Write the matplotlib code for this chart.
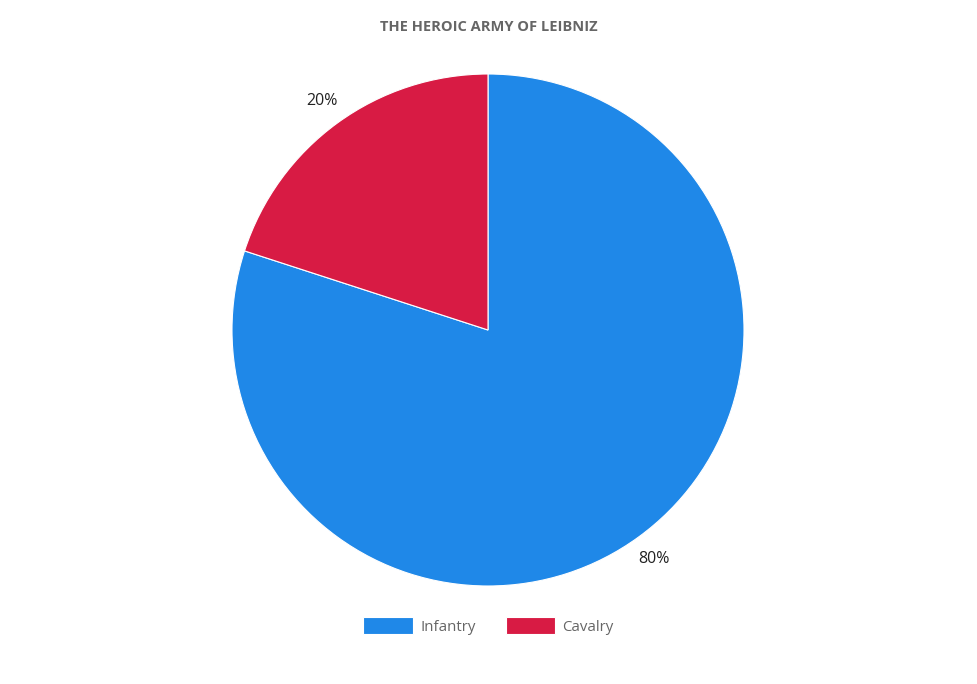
import matplotlib
matplotlib.use('Agg')
import matplotlib.pyplot as plt

# data
labels = ['Infantry', 'Cavalry']
values = [80, 20]
colors = ['#1f88e8', '#d81b44']
title = 'THE HEROIC ARMY OF LEIBNIZ'

W, H = 977, 684
plt.rcParams['font.family'] = ['Open Sans', 'DejaVu Sans']

fig = plt.figure(figsize=(W / 100, H / 100), dpi=100)
ax = fig.add_axes([0, 0, 1, 1])
ax.set_xlim(0, W)
ax.set_ylim(0, H)
ax.set_aspect('equal')
ax.axis('off')

wedges, texts, autotexts = ax.pie(
    values, colors=colors, center=(488, H - 330), radius=256,
    startangle=90, counterclock=False,
    autopct='%1.0f%%', pctdistance=1.105,
    wedgeprops=dict(edgecolor='white', linewidth=0.8),
    textprops=dict(fontsize=11.5, color='#222222'))
ax.set_xlim(0, W)
ax.set_ylim(0, H)

fig.text(489 / W, 1 - 27 / H, title, ha='center', va='center',
         fontsize=10.5, fontweight='bold', color='#666666')

fig.legend(wedges, labels, loc='center', bbox_to_anchor=(0.5, 1 - 626 / H),
           ncol=2, frameon=False, fontsize=10.8, labelcolor='#666666',
           handlelength=3.3, handleheight=1.3, columnspacing=2.0,
           handletextpad=0.5)

fig.savefig('out.png', dpi=100)
